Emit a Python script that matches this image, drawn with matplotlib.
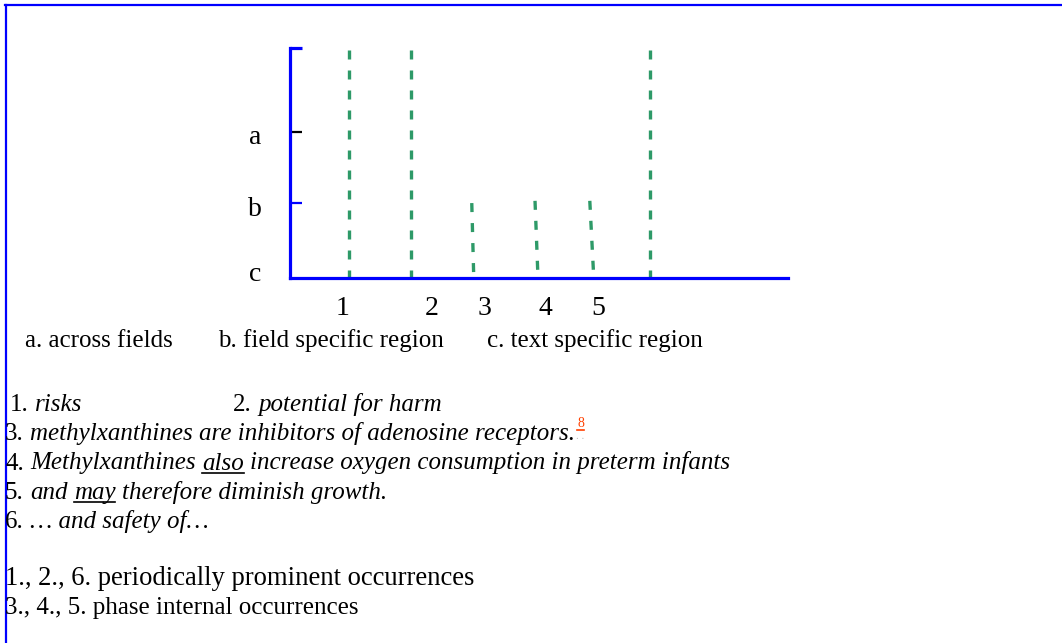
import matplotlib
matplotlib.use("Agg")
import matplotlib.pyplot as plt
from matplotlib.lines import Line2D
from matplotlib.transforms import ScaledTranslation

W, H = 1062, 643
plt.rcParams['font.family'] = ['Liberation Serif', 'DejaVu Serif']

# ---- data ----
occurrences = ['1', '2', '3', '4', '5', '6']
line_x_top = [1.18, 2.43, 3.65, 4.92, 6.02, 7.23]
line_x_bottom = [1.18, 2.43, 3.69, 4.98, 6.10, 7.23]
line_top = [3.04, 3.04, 1.00, 1.03, 1.03, 3.04]   # c=0, b=1, a=1.95
level_names = ['c', 'b', 'a', '']
level_values = [0.0, 1.0, 1.95, 3.07]
digit_labels = ['1', '2', '3', '4', '5']
digit_pos = [1.06, 2.85, 3.90, 5.12, 6.18]

legend_items = [(25, 'a. across fields'), (218, 'b. field specific region'),
                (487, 'c. text specific region')]

BLUE = '#0000ff'
GREEN = '#2e9a68'
BODY = 18

fig = plt.figure(figsize=(W / 100, H / 100), dpi=100)
fig.patch.set_facecolor('white')

# frame border (top + left)
fig.add_artist(Line2D([5 / W, 1.0], [1 - 5 / H, 1 - 5 / H], color=BLUE, lw=1.6,
                      transform=fig.transFigure))
fig.add_artist(Line2D([5.5 / W, 5.5 / W], [0, 1 - 5 / H], color=BLUE, lw=1.6,
                      transform=fig.transFigure))

ax = fig.add_axes([290 / W, (H - 278) / H, (788 - 290) / W, (278 - 48) / H])
ax.set_xlim(0, 10)
ax.set_ylim(0, 3.07)
for s in ['top', 'right']:
    ax.spines[s].set_visible(False)
for s in ['left', 'bottom']:
    ax.spines[s].set_color(BLUE)
    ax.spines[s].set_linewidth(2.3)
    ax.spines[s].set_capstyle('projecting')

for xt, xb, top in zip(line_x_top, line_x_bottom, line_top):
    ax.plot([xt, xb], [top, 0], color=GREEN, lw=2.4, linestyle=(0, (2.7, 3.3)),
            solid_capstyle='butt', dash_capstyle='butt', clip_on=False)

ax.set_yticks(level_values)
ax.set_yticklabels(level_names, fontsize=20)
ax.tick_params(axis='y', direction='in', length=8.5, width=1.6, pad=25, colors='black')
yt = ax.yaxis.get_major_ticks()
yt[0].tick1line.set_visible(False)
yt[1].tick1line.set_markeredgecolor(BLUE)
yt[2].tick1line.set_markeredgecolor('black')
yt[3].tick1line.set_markeredgecolor(BLUE)
yt[3].tick1line.set_markeredgewidth(2.3)
label_shift_px = [6.5, -3.5, -2.5, 0]   # c, b, a, top (pixels, + = up)
for lab, dy in zip(ax.get_yticklabels(), label_shift_px):
    lab.set_horizontalalignment('center')
    lab.set_transform(lab.get_transform() +
                      ScaledTranslation(0, dy / 100, fig.dpi_scale_trans))

ax.set_xticks(digit_pos)
ax.set_xticklabels(digit_labels, fontsize=20)
ax.tick_params(axis='x', length=0, pad=13)

renderer = fig.canvas.get_renderer()


def width_of(txt, size, italic=False):
    t = fig.text(0, 0, txt, fontsize=size, style='italic' if italic else 'normal')
    w = t.get_window_extent(renderer).width
    t.remove()
    return w


def runs(x_px, base_px, parts, size=BODY):
    sp = width_of('x x', size) - width_of('xx', size)
    x = x_px
    for txt, italic, underline, color in parts:
        lead = len(txt) - len(txt.lstrip(' '))
        x += lead * sp
        core = txt.strip(' ')
        t = fig.text(x / W, 1 - base_px / H, core, fontsize=size, color=color,
                     style='italic' if italic else 'normal', va='baseline')
        bb = t.get_window_extent(renderer)
        if underline:
            fig.add_artist(Line2D([bb.x0 / W, bb.x1 / W],
                                  [1 - (base_px + 3) / H, 1 - (base_px + 3) / H],
                                  color=color, lw=1.2, transform=fig.transFigure))
        x = bb.x1 if core else x
        trail = len(txt) - len(txt.rstrip(' '))
        x += trail * sp
    return x


for xp, txt in legend_items:
    runs(xp, 347, [(txt, False, False, 'black')])

K = 'black'
runs(10, 411, [('1.', False, False, K), (' risks', True, False, K)])
runs(233, 411, [('2.', False, False, K), (' potential for harm', True, False, K)])
xe = runs(5, 440, [('3.', False, False, K),
                   (' methylxanthines are inhibitors of adenosine receptors.', True, False, K)])
runs(xe + 2, 427, [('8', False, True, '#ff4000')], size=10)
runs(xe + 1, 439, [('. .', False, False, '#bbbbbb')], size=8)
runs(5, 469.5, [('4.', False, False, K), (' Methylxanthines ', True, False, K),
                ('also', True, True, K),
                (' increase oxygen consumption in preterm infants', True, False, K)])
runs(5, 499, [('5.', False, False, K), (' and ', True, False, K), ('may', True, True, K),
              (' therefore diminish growth.', True, False, K)])
runs(5, 528, [('6.', False, False, K), (' \u2026 and safety of\u2026', True, False, K)])

runs(5, 585, [('1., 2., 6. periodically prominent occurrences', False, False, K)], size=19.2)
runs(5, 614, [('3., 4., 5. phase internal occurrences', False, False, K)])

fig.savefig('out.png', dpi=100, facecolor='white')
